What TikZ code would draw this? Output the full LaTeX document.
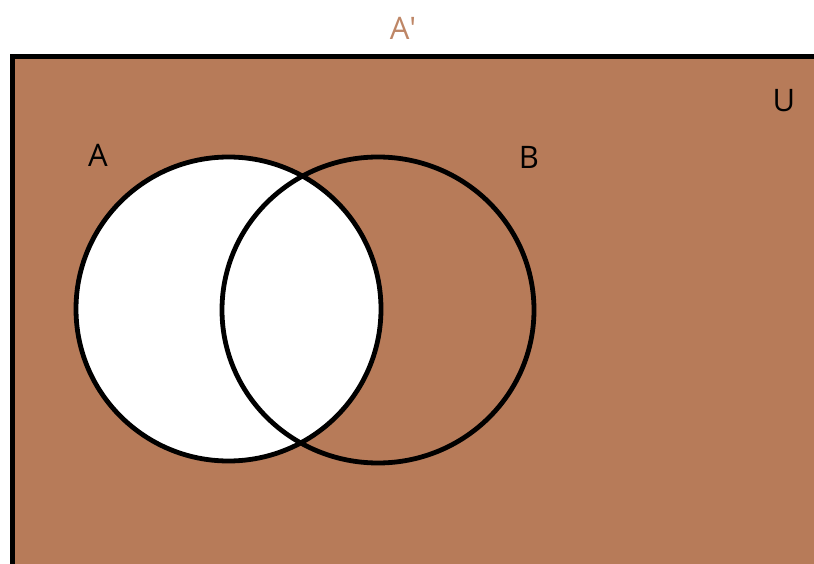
\documentclass[tikz,border=0pt]{standalone}
\usepackage{fontspec}
\setmainfont{Open Sans}
\definecolor{venbrown}{RGB}{183,123,89}
\definecolor{labelbrown}{RGB}{190,134,102}
\tikzset{
  setline/.style={line width=4.8pt, draw=black},
  lbl/.style={font=\fontsize{31}{36}\selectfont, inner sep=0pt, anchor=center},
}
\begin{document}
\begin{tikzpicture}[x=1pt,y=-1pt]
\useasboundingbox (0,0) rectangle (814,564);
\begin{scope}
\clip (0,0) rectangle (814,564);
\draw[line width=5pt, fill=venbrown] (12,57) rectangle (840,590);
\end{scope}
\fill[white] (228.5,309) ellipse [x radius=152.5, y radius=152];
\draw[setline] (228.5,309) ellipse [x radius=152.5, y radius=152];
\draw[setline] (378,310) ellipse [x radius=156, y radius=153];
\node[lbl, text=labelbrown] (comp) at (403,28) {A\textquotesingle};
\node[lbl] (univ) at (784,101) {U};
\node[lbl] (labA) at (98,155) {A};
\node[lbl] (labB) at (529,157) {B};
\end{tikzpicture}
\end{document}
